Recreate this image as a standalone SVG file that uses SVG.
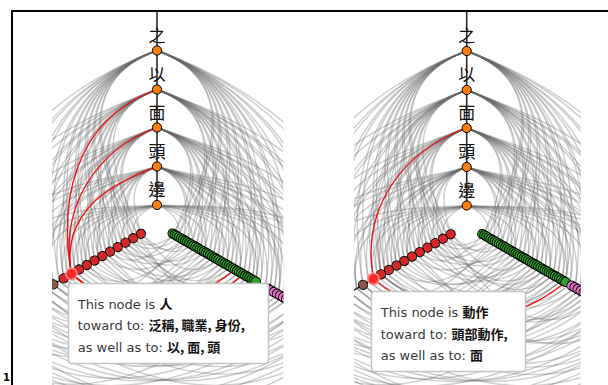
<svg xmlns="http://www.w3.org/2000/svg" xmlns:xlink="http://www.w3.org/1999/xlink" width="608" height="385" viewBox="0 0 608 385">
<style>
.frame{fill:none;stroke:#000;stroke-width:2}
.link path{fill:none;stroke:#666;stroke-opacity:.33;stroke-width:1.4}
.hot{fill:none;stroke:#f00;stroke-width:1.3;stroke-opacity:.9}
.axis{stroke:#2a2a2a;stroke-width:1.6}
.nd circle{stroke:#000;stroke-width:1}
.top circle{fill:#ff7f0e}
.red circle{fill:#d62728}
.grn circle{fill:#2ca02c}
.pnk circle{fill:#e377c2}
.brn circle{fill:#8c564b}
.sel circle{fill:#ff2a2a;stroke:#ff8a8a;stroke-width:1.6}
.lab{font-family:"Noto Sans CJK TC","Noto Sans CJK SC",sans-serif;font-size:17px;text-anchor:middle;fill:#111}
.tip rect{fill:#fff;stroke:#c4c4c4;stroke-width:1.5}
.tip text{font-family:"DejaVu Sans",Verdana,sans-serif;font-size:13px;fill:#3a3a3a}
.tip .zh{font-family:"Noto Sans CJK TC","Noto Sans CJK SC",sans-serif;font-weight:bold;fill:#111}
.pg{font-family:"DejaVu Sans",sans-serif;font-size:10px;font-weight:bold;fill:#000}
</style>
<defs>
<clipPath id="clip-a"><rect x="52" y="12" width="231.3" height="373"/></clipPath>
<clipPath id="clip-b"><rect x="354" y="12" width="226.7" height="373"/></clipPath>
<!-- hive links in a canonical frame: source on angle 0, target on angle 120 -->
<g id="edge-set" class="link">
 <!-- lower left axis to top axis -->
 <g transform="rotate(150)">
  <path d="M27.4,0C21,17.6 30.3,171.4 -87,150.7"/>
  <path d="M45.3,0C34.7,29.1 30.3,171.4 -87,150.7"/>
  <path d="M63.1,0C48.3,40.6 30.3,171.4 -87,150.7"/>
  <path d="M81,0C62,52.1 30.3,171.4 -87,150.7"/>
  <path d="M98.8,0C75.7,63.5 30.3,171.4 -87,150.7"/>
  <path d="M119.7,0C91.7,77 30.3,171.4 -87,150.7"/>
  <path d="M150,0C114.9,96.5 30.3,171.4 -87,150.7"/>
  <path d="M185,0C141.7,119 30.3,171.4 -87,150.7"/>
  <path d="M22.9,0C17.5,14.7 30.3,171.4 -87,150.7"/>
  <path d="M40.8,0C31.3,26.2 30.3,171.4 -87,150.7"/>
  <path d="M58.6,0C44.9,37.7 30.3,171.4 -87,150.7"/>
  <path d="M76.5,0C58.6,49.2 30.3,171.4 -87,150.7"/>
  <path d="M94.3,0C72.2,60.6 30.3,171.4 -87,150.7"/>
  <path d="M113,0C86.6,72.7 30.3,171.4 -87,150.7"/>
  <path d="M142,0C108.8,91.3 30.3,171.4 -87,150.7"/>
  <path d="M175,0C134.1,112.5 30.3,171.4 -87,150.7"/>
  <path d="M215,0C164.7,138.2 30.3,171.4 -87,150.7"/>
  <path d="M18.5,0C14.2,11.9 23.5,133 -67.5,116.9"/>
  <path d="M36.3,0C27.8,23.3 23.5,133 -67.5,116.9"/>
  <path d="M54.2,0C41.5,34.9 23.5,133 -67.5,116.9"/>
  <path d="M72,0C55.2,46.3 23.5,133 -67.5,116.9"/>
  <path d="M89.9,0C68.9,57.8 23.5,133 -67.5,116.9"/>
  <path d="M98.8,0C75.7,63.5 23.5,133 -67.5,116.9"/>
  <path d="M107.7,0C82.5,69.3 23.5,133 -67.5,116.9"/>
  <path d="M135,0C103.4,86.8 23.5,133 -67.5,116.9"/>
  <path d="M165,0C126.4,106.1 23.5,133 -67.5,116.9"/>
  <path d="M31.8,0C24.4,20.4 23.5,133 -67.5,116.9"/>
  <path d="M49.7,0C38.1,32 23.5,133 -67.5,116.9"/>
  <path d="M67.6,0C51.8,43.5 23.5,133 -67.5,116.9"/>
  <path d="M85.4,0C65.4,54.9 23.5,133 -67.5,116.9"/>
  <path d="M103.2,0C79.1,66.4 23.5,133 -67.5,116.9"/>
  <path d="M127,0C97.3,81.7 23.5,133 -67.5,116.9"/>
  <path d="M157,0C120.3,100.9 23.5,133 -67.5,116.9"/>
  <path d="M195,0C149.4,125.4 23.5,133 -67.5,116.9"/>
  <path d="M230,0C176.2,147.9 23.5,133 -67.5,116.9"/>
  <path d="M27.4,0C21,17.6 16.9,95.5 -48.5,84"/>
  <path d="M45.3,0C34.7,29.1 16.9,95.5 -48.5,84"/>
  <path d="M63.1,0C48.3,40.6 16.9,95.5 -48.5,84"/>
  <path d="M81,0C62,52.1 16.9,95.5 -48.5,84"/>
  <path d="M98.8,0C75.7,63.5 16.9,95.5 -48.5,84"/>
  <path d="M107.7,0C82.5,69.3 16.9,95.5 -48.5,84"/>
  <path d="M119.7,0C91.7,77 16.9,95.5 -48.5,84"/>
  <path d="M150,0C114.9,96.5 16.9,95.5 -48.5,84"/>
  <path d="M205,0C157,131.8 16.9,95.5 -48.5,84"/>
  <path d="M22.9,0C17.5,14.7 16.9,95.5 -48.5,84"/>
  <path d="M40.8,0C31.3,26.2 16.9,95.5 -48.5,84"/>
  <path d="M58.6,0C44.9,37.7 16.9,95.5 -48.5,84"/>
  <path d="M76.5,0C58.6,49.2 16.9,95.5 -48.5,84"/>
  <path d="M94.3,0C72.2,60.6 16.9,95.5 -48.5,84"/>
  <path d="M113,0C86.6,72.7 16.9,95.5 -48.5,84"/>
  <path d="M142,0C108.8,91.3 16.9,95.5 -48.5,84"/>
  <path d="M175,0C134.1,112.5 16.9,95.5 -48.5,84"/>
  <path d="M18.5,0C14.2,11.9 10.1,57.1 -29,50.2"/>
  <path d="M36.3,0C27.8,23.3 10.1,57.1 -29,50.2"/>
  <path d="M54.2,0C41.5,34.9 10.1,57.1 -29,50.2"/>
  <path d="M72,0C55.2,46.3 10.1,57.1 -29,50.2"/>
  <path d="M89.9,0C68.9,57.8 10.1,57.1 -29,50.2"/>
  <path d="M98.8,0C75.7,63.5 10.1,57.1 -29,50.2"/>
  <path d="M135,0C103.4,86.8 10.1,57.1 -29,50.2"/>
  <path d="M185,0C141.7,119 10.1,57.1 -29,50.2"/>
  <path d="M31.8,0C24.4,20.4 10.1,57.1 -29,50.2"/>
  <path d="M49.7,0C38.1,32 10.1,57.1 -29,50.2"/>
  <path d="M67.6,0C51.8,43.5 10.1,57.1 -29,50.2"/>
  <path d="M85.4,0C65.4,54.9 10.1,57.1 -29,50.2"/>
  <path d="M103.2,0C79.1,66.4 10.1,57.1 -29,50.2"/>
  <path d="M127,0C97.3,81.7 10.1,57.1 -29,50.2"/>
  <path d="M157,0C120.3,100.9 10.1,57.1 -29,50.2"/>
  <path d="M215,0C164.7,138.2 10.1,57.1 -29,50.2"/>
  <path d="M27.4,0C21,17.6 3.4,19.2 -9.75,16.9"/>
  <path d="M54.2,0C41.5,34.9 3.4,19.2 -9.75,16.9"/>
  <path d="M81,0C62,52.1 3.4,19.2 -9.75,16.9"/>
  <path d="M107.7,0C82.5,69.3 3.4,19.2 -9.75,16.9"/>
  <path d="M150,0C114.9,96.5 3.4,19.2 -9.75,16.9"/>
  <path d="M40.8,0C31.3,26.2 3.4,19.2 -9.75,16.9"/>
  <path d="M67.6,0C51.8,43.5 3.4,19.2 -9.75,16.9"/>
  <path d="M94.3,0C72.2,60.6 3.4,19.2 -9.75,16.9"/>
  <path d="M127,0C97.3,81.7 3.4,19.2 -9.75,16.9"/>
  <path d="M195,0C149.4,125.4 3.4,19.2 -9.75,16.9"/>
 </g>
 <!-- top axis to lower right axis -->
 <g transform="rotate(-90)">
  <path d="M174,0C133.3,111.9 3.5,19.7 -10,17.3"/>
  <path d="M174,0C133.3,111.9 7,39.4 -20,34.6"/>
  <path d="M174,0C133.3,111.9 10.4,59.1 -30,52"/>
  <path d="M174,0C133.3,111.9 13.9,78.8 -40,69.3"/>
  <path d="M174,0C133.3,111.9 17.4,98.5 -50,86.6"/>
  <path d="M174,0C133.3,111.9 19.8,112.3 -57,98.7"/>
  <path d="M174,0C133.3,111.9 23.5,133 -67.5,116.9"/>
  <path d="M174,0C133.3,111.9 27.8,157.6 -80,138.6"/>
  <path d="M174,0C133.3,111.9 33.1,187.2 -95,164.5"/>
  <path d="M174,0C133.3,111.9 4.35,24.6 -12.5,21.65"/>
  <path d="M174,0C133.3,111.9 7.8,44.3 -22.5,39"/>
  <path d="M174,0C133.3,111.9 11.3,64 -32.5,56.3"/>
  <path d="M174,0C133.3,111.9 14.8,83.7 -42.5,73.6"/>
  <path d="M174,0C133.3,111.9 18.3,103.4 -52.5,90.9"/>
  <path d="M174,0C133.3,111.9 22.6,128 -65,112.6"/>
  <path d="M174,0C133.3,111.9 26.1,147.8 -75,129.9"/>
  <path d="M174,0C133.3,111.9 31.7,179.3 -91,157.6"/>
  <path d="M174,0C133.3,111.9 38.3,216.7 -110,190.5"/>
  <path d="M174,0C133.3,111.9 41.8,236.4 -120,207.8"/>
  <path d="M135,0C103.4,86.8 5.2,29.6 -15,26"/>
  <path d="M135,0C103.4,86.8 8.7,49.3 -25,43.3"/>
  <path d="M135,0C103.4,86.8 12.2,69 -35,60.6"/>
  <path d="M135,0C103.4,86.8 15.7,88.7 -45,77.9"/>
  <path d="M135,0C103.4,86.8 19.1,108.4 -55,95.3"/>
  <path d="M135,0C103.4,86.8 21.8,123.1 -62.5,108.3"/>
  <path d="M135,0C103.4,86.8 25.2,142.8 -72.5,125.6"/>
  <path d="M135,0C103.4,86.8 30.5,172.4 -87.5,151.6"/>
  <path d="M135,0C103.4,86.8 36.5,206.9 -105,181.9"/>
  <path d="M135,0C103.4,86.8 6.1,34.5 -17.5,30.3"/>
  <path d="M135,0C103.4,86.8 9.6,54.2 -27.5,47.6"/>
  <path d="M135,0C103.4,86.8 13.05,73.9 -37.5,64.95"/>
  <path d="M135,0C103.4,86.8 16.5,93.6 -47.5,82.3"/>
  <path d="M135,0C103.4,86.8 20.7,117.2 -59.5,103.1"/>
  <path d="M135,0C103.4,86.8 24.4,137.9 -70,121.2"/>
  <path d="M135,0C103.4,86.8 29.1,164.5 -83.5,144.6"/>
  <path d="M135,0C103.4,86.8 34.8,197 -100,173.2"/>
  <path d="M135,0C103.4,86.8 41.8,236.4 -120,207.8"/>
  <path d="M97,0C74.3,62.4 3.5,19.7 -10,17.3"/>
  <path d="M97,0C74.3,62.4 7,39.4 -20,34.6"/>
  <path d="M97,0C74.3,62.4 10.4,59.1 -30,52"/>
  <path d="M97,0C74.3,62.4 13.9,78.8 -40,69.3"/>
  <path d="M97,0C74.3,62.4 17.4,98.5 -50,86.6"/>
  <path d="M97,0C74.3,62.4 19.8,112.3 -57,98.7"/>
  <path d="M97,0C74.3,62.4 23.5,133 -67.5,116.9"/>
  <path d="M97,0C74.3,62.4 27.8,157.6 -80,138.6"/>
  <path d="M97,0C74.3,62.4 33.1,187.2 -95,164.5"/>
  <path d="M97,0C74.3,62.4 4.35,24.6 -12.5,21.65"/>
  <path d="M97,0C74.3,62.4 7.8,44.3 -22.5,39"/>
  <path d="M97,0C74.3,62.4 11.3,64 -32.5,56.3"/>
  <path d="M97,0C74.3,62.4 14.8,83.7 -42.5,73.6"/>
  <path d="M97,0C74.3,62.4 18.3,103.4 -52.5,90.9"/>
  <path d="M97,0C74.3,62.4 22.6,128 -65,112.6"/>
  <path d="M97,0C74.3,62.4 26.1,147.8 -75,129.9"/>
  <path d="M97,0C74.3,62.4 31.7,179.3 -91,157.6"/>
  <path d="M97,0C74.3,62.4 38.3,216.7 -110,190.5"/>
  <path d="M58,0C44.4,37.3 5.2,29.6 -15,26"/>
  <path d="M58,0C44.4,37.3 8.7,49.3 -25,43.3"/>
  <path d="M58,0C44.4,37.3 12.2,69 -35,60.6"/>
  <path d="M58,0C44.4,37.3 15.7,88.7 -45,77.9"/>
  <path d="M58,0C44.4,37.3 19.1,108.4 -55,95.3"/>
  <path d="M58,0C44.4,37.3 21.8,123.1 -62.5,108.3"/>
  <path d="M58,0C44.4,37.3 25.2,142.8 -72.5,125.6"/>
  <path d="M58,0C44.4,37.3 30.5,172.4 -87.5,151.6"/>
  <path d="M58,0C44.4,37.3 6.1,34.5 -17.5,30.3"/>
  <path d="M58,0C44.4,37.3 9.6,54.2 -27.5,47.6"/>
  <path d="M58,0C44.4,37.3 13.05,73.9 -37.5,64.95"/>
  <path d="M58,0C44.4,37.3 16.5,93.6 -47.5,82.3"/>
  <path d="M58,0C44.4,37.3 20.7,117.2 -59.5,103.1"/>
  <path d="M58,0C44.4,37.3 24.4,137.9 -70,121.2"/>
  <path d="M58,0C44.4,37.3 29.1,164.5 -83.5,144.6"/>
  <path d="M58,0C44.4,37.3 34.8,197 -100,173.2"/>
  <path d="M58,0C44.4,37.3 41.8,236.4 -120,207.8"/>
  <path d="M19.5,0C14.9,12.5 7,39.4 -20,34.6"/>
  <path d="M19.5,0C14.9,12.5 13.9,78.8 -40,69.3"/>
  <path d="M19.5,0C14.9,12.5 19.8,112.3 -57,98.7"/>
  <path d="M19.5,0C14.9,12.5 27.8,157.6 -80,138.6"/>
  <path d="M19.5,0C14.9,12.5 36.5,206.9 -105,181.9"/>
  <path d="M19.5,0C14.9,12.5 4.35,24.6 -12.5,21.65"/>
  <path d="M19.5,0C14.9,12.5 9.6,54.2 -27.5,47.6"/>
  <path d="M19.5,0C14.9,12.5 16.5,93.6 -47.5,82.3"/>
  <path d="M19.5,0C14.9,12.5 24.4,137.9 -70,121.2"/>
  <path d="M19.5,0C14.9,12.5 31.7,179.3 -91,157.6"/>
  <path d="M19.5,0C14.9,12.5 41.8,236.4 -120,207.8"/>
 </g>
 <!-- lower right axis to lower left axis -->
 <g transform="rotate(30)">
  <path d="M20,0C15.3,12.9 4.8,27 -13.7,23.7"/>
  <path d="M30,0C23,19.3 7.9,44.6 -22.65,39.2"/>
  <path d="M40,0C30.6,25.7 3.2,18.2 -9.25,16"/>
  <path d="M40,0C30.6,25.7 11,62.2 -31.55,54.6"/>
  <path d="M50,0C38.3,32.2 6.3,35.8 -18.15,31.4"/>
  <path d="M60,0C46,38.6 14.1,79.8 -40.5,70.1"/>
  <path d="M70,0C53.6,45 9.4,53.4 -27.1,46.9"/>
  <path d="M80,0C61.3,51.4 17.2,97.3 -49.4,85.6"/>
  <path d="M90,0C68.9,57.9 12.5,70.9 -36,62.4"/>
  <path d="M100,0C76.6,64.3 20.8,117.9 -59.85,103.7"/>
  <path d="M110,0C84.3,70.7 15.6,88.6 -44.95,77.9"/>
  <path d="M114,0C87.3,73.3 18.7,106.1 -53.85,93.3"/>
  <path d="M125,0C95.8,80.4 23.5,133 -67.5,116.9"/>
  <path d="M135,0C103.4,86.8 17.2,97.3 -49.4,85.6"/>
  <path d="M145,0C111.1,93.2 26.1,147.8 -75,129.9"/>
  <path d="M160,0C122.6,102.9 20.8,117.9 -59.85,103.7"/>
  <path d="M175,0C134.1,112.5 28.7,162.5 -82.5,142.9"/>
  <path d="M190,0C145.5,122.2 32.2,182.2 -92.5,160.2"/>
  <path d="M210,0C160.9,135 35.7,201.9 -102.5,177.5"/>
  <path d="M60,0C46,38.6 26.1,147.8 -75,129.9"/>
  <path d="M145,0C111.1,93.2 11,62.2 -31.55,54.6"/>
  <path d="M100,0C76.6,64.3 4.8,27 -13.7,23.7"/>
  <path d="M30,0C23,19.3 18.7,106.1 -53.85,93.3"/>
  <path d="M175,0C134.1,112.5 14.1,79.8 -40.5,70.1"/>
  <path d="M80,0C61.3,51.4 32.2,182.2 -92.5,160.2"/>
  <path d="M125,0C95.8,80.4 7.9,44.6 -22.65,39.2"/>
  <path d="M210,0C160.9,135 23.5,133 -67.5,116.9"/>
  <path d="M160,0C122.6,102.9 35.7,201.9 -102.5,177.5"/>
  <path d="M50,0C38.3,32.2 20.8,117.9 -59.85,103.7"/>
  <path d="M190,0C145.5,122.2 23.5,133 -67.5,116.9"/>
  <path d="M110,0C84.3,70.7 28.7,162.5 -82.5,142.9"/>
  <path d="M70,0C53.6,45 3.2,18.2 -9.25,16"/>
  <path d="M20,0C15.3,12.9 9.4,53.4 -27.1,46.9"/>
  <path d="M90,0C68.9,57.9 6.3,35.8 -18.15,31.4"/>
  <path d="M135,0C103.4,86.8 32.2,182.2 -92.5,160.2"/>
  <path d="M90,0C68.9,57.9 17.2,97.3 -49.4,85.6"/>
  <path d="M100,0C76.6,64.3 17.2,97.3 -49.4,85.6"/>
  <path d="M110,0C84.3,70.7 17.2,97.3 -49.4,85.6"/>
  <path d="M25,0C19.15,16.1 5.5,31.3 -15.9,27.5"/>
  <path d="M35,0C26.8,22.5 4,22.6 -11.45,19.8"/>
  <path d="M45,0C34.5,28.9 8.6,49 -24.85,43"/>
  <path d="M55,0C42.1,35.4 7.1,40.2 -20.4,35.3"/>
  <path d="M65,0C49.8,41.8 13.3,75.4 -38.25,66.2"/>
  <path d="M75,0C57.45,48.2 10.2,57.7 -29.3,50.7"/>
  <path d="M85,0C65.1,54.7 16.4,92.9 -47.15,81.7"/>
  <path d="M95,0C72.8,61.1 14.9,84.1 -42.7,74"/>
  <path d="M105,0C80.4,67.5 19.7,111.3 -56.5,97.9"/>
  <path d="M119,0C91.2,76.5 18,101.7 -51.6,89.4"/>
  <path d="M130,0C99.6,83.6 22.1,125.1 -63.5,110"/>
  <path d="M140,0C107.2,90 24.7,139.9 -71,123"/>
  <path d="M150,0C114.9,96.5 27.3,154.6 -78.5,136"/>
  <path d="M167,0C127.9,107.4 30.5,172.4 -87.5,151.6"/>
  <path d="M182,0C139.4,117 33.9,192.1 -97.5,168.9"/>
  <path d="M200,0C153.2,128.6 37.4,211.8 -107.5,186.2"/>
  <path d="M220,0C168.5,141.5 40,226.6 -115,199.2"/>
  <path d="M240,0C183.8,154.3 37.4,211.8 -107.5,186.2"/>
  <path d="M35,0C26.8,22.5 14.9,84.1 -42.7,74"/>
  <path d="M55,0C42.1,35.4 22.1,125.1 -63.5,110"/>
  <path d="M75,0C57.45,48.2 27.3,154.6 -78.5,136"/>
  <path d="M95,0C72.8,61.1 33.9,192.1 -97.5,168.9"/>
  <path d="M119,0C91.2,76.5 7.1,40.2 -20.4,35.3"/>
  <path d="M140,0C107.2,90 11.8,66.6 -33.8,58.5"/>
  <path d="M167,0C127.9,107.4 16.4,92.9 -47.15,81.7"/>
  <path d="M200,0C153.2,128.6 22.1,125.1 -63.5,110"/>
  <path d="M220,0C168.5,141.5 27.3,154.6 -78.5,136"/>
  <path d="M240,0C183.8,154.3 33.9,192.1 -97.5,168.9"/>
  <path d="M130,0C99.6,83.6 40,226.6 -115,199.2"/>
  <path d="M150,0C114.9,96.5 4,22.6 -11.45,19.8"/>
  <path d="M182,0C139.4,117 10.2,57.7 -29.3,50.7"/>
  <path d="M105,0C80.4,67.5 30.5,172.4 -87.5,151.6"/>
  <path d="M65,0C49.8,41.8 24.7,139.9 -71,123"/>
  <path d="M45,0C34.5,28.9 19.7,111.3 -56.5,97.9"/>
  <path d="M85,0C65.1,54.7 5.5,31.3 -15.9,27.5"/>
  <path d="M200,0C153.2,128.6 30.5,172.4 -87.5,151.6"/>
  <path d="M240,0C183.8,154.3 40,226.6 -115,199.2"/>
  <path d="M167,0C127.9,107.4 37.4,211.8 -107.5,186.2"/>
 </g>
</g>
</defs>

<!-- page frame -->
<path class="frame" d="M12,385V11H608"/>
<text class="pg" x="3" y="381">1</text>

<!-- left hive: 人 selected -->
<g id="hive-a" clip-path="url(#clip-a)">
 <g transform="translate(157,224.5)">
  <g id="connectors-a">
   <use href="#edge-set"/>
   <g transform="rotate(150)" class="hot">
    <path d="M98.8,0C75.7,63.5 23.5,133 -67.5,116.9"/>
    <path d="M98.8,0C75.7,63.5 16.9,95.5 -48.5,84"/>
    <path d="M98.8,0C75.7,63.5 10.1,57.1 -29,50.2"/>
   </g>
   <g transform="rotate(30)" class="hot">
    <path d="M90,0C68.9,57.9 17.2,97.3 -49.4,85.6"/>
    <path d="M100,0C76.6,64.3 17.2,97.3 -49.4,85.6"/>
    <path d="M110,0C84.3,70.7 17.2,97.3 -49.4,85.6"/>
   </g>
  </g>
  <g class="axis">
   <line x1="0" y1="-15" x2="0" y2="-240"/>
   <line x1="15" y1="0" x2="260" y2="0" transform="rotate(150)"/>
   <line x1="15" y1="0" x2="260" y2="0" transform="rotate(30)"/>
  </g>
  <g class="nd top">
   <g id="a-zhi"><text class="lab" x="0" y="-183">之</text><circle cx="0" cy="-174" r="4.6"/></g>
   <g id="a-yi"><text class="lab" x="0" y="-144">以</text><circle cx="0" cy="-135" r="4.6"/></g>
   <g id="a-mian"><text class="lab" x="0" y="-106">面</text><circle cx="0" cy="-97" r="4.6"/></g>
   <g id="a-tou"><text class="lab" x="0" y="-67">頭</text><circle cx="0" cy="-58" r="4.6"/></g>
   <g id="a-bian"><text class="lab" x="0" y="-28.5">邊</text><circle cx="0" cy="-19.5" r="4.6"/></g>
  </g>
  <g class="nd red" transform="rotate(150)">
   <g id="a-r00"><circle cx="18.5" r="4.6"/></g>
   <g id="a-r01"><circle cx="27.4" r="4.6"/></g>
   <g id="a-r02"><circle cx="36.3" r="4.6"/></g>
   <g id="a-r03"><circle cx="45.3" r="4.6"/></g>
   <g id="a-r04"><circle cx="54.2" r="4.6"/></g>
   <g id="a-r05"><circle cx="63.1" r="4.6"/></g>
   <g id="a-r06"><circle cx="72" r="4.6"/></g>
   <g id="a-r07"><circle cx="81" r="4.6"/></g>
   <g id="a-r08"><circle cx="89.9" r="4.6"/></g>
   <g id="a-r10"><circle cx="107.7" r="4.6"/></g>
   <g id="a-ren" class="sel"><circle cx="98.8" r="5.6"/></g>
  </g>
  <g class="nd brn" transform="rotate(150)">
   <g id="a-b00"><circle cx="119.7" r="4.6"/></g>
  </g>
  <g class="nd grn" transform="rotate(30)">
   <g id="a-g00"><circle cx="18" r="4.6"/></g><g id="a-g01"><circle cx="20.4" r="4.6"/></g><g id="a-g02"><circle cx="22.8" r="4.6"/></g><g id="a-g03"><circle cx="25.2" r="4.6"/></g><g id="a-g04"><circle cx="27.6" r="4.6"/></g><g id="a-g05"><circle cx="30" r="4.6"/></g><g id="a-g06"><circle cx="32.4" r="4.6"/></g><g id="a-g07"><circle cx="34.8" r="4.6"/></g><g id="a-g08"><circle cx="37.2" r="4.6"/></g><g id="a-g09"><circle cx="39.6" r="4.6"/></g>
   <g id="a-g10"><circle cx="42" r="4.6"/></g><g id="a-g11"><circle cx="44.4" r="4.6"/></g><g id="a-g12"><circle cx="46.8" r="4.6"/></g><g id="a-g13"><circle cx="49.2" r="4.6"/></g><g id="a-g14"><circle cx="51.6" r="4.6"/></g><g id="a-g15"><circle cx="54" r="4.6"/></g><g id="a-g16"><circle cx="56.4" r="4.6"/></g><g id="a-g17"><circle cx="58.8" r="4.6"/></g><g id="a-g18"><circle cx="61.2" r="4.6"/></g><g id="a-g19"><circle cx="63.6" r="4.6"/></g>
   <g id="a-g20"><circle cx="66" r="4.6"/></g><g id="a-g21"><circle cx="68.4" r="4.6"/></g><g id="a-g22"><circle cx="70.8" r="4.6"/></g><g id="a-g23"><circle cx="73.2" r="4.6"/></g><g id="a-g24"><circle cx="75.6" r="4.6"/></g><g id="a-g25"><circle cx="78" r="4.6"/></g><g id="a-g26"><circle cx="80.4" r="4.6"/></g><g id="a-g27"><circle cx="82.8" r="4.6"/></g><g id="a-g28"><circle cx="85.2" r="4.6"/></g><g id="a-g29"><circle cx="87.6" r="4.6"/></g>
   <g id="a-g30"><circle cx="90" r="4.6"/></g><g id="a-g31"><circle cx="92.4" r="4.6"/></g><g id="a-g32"><circle cx="94.8" r="4.6"/></g><g id="a-g33"><circle cx="97.2" r="4.6"/></g><g id="a-g34"><circle cx="99.6" r="4.6"/></g><g id="a-g35"><circle cx="102" r="4.6"/></g><g id="a-g36"><circle cx="104.4" r="4.6"/></g><g id="a-g37"><circle cx="106.8" r="4.6"/></g><g id="a-g38"><circle cx="109.2" r="4.6"/></g><g id="a-g39"><circle cx="111.6" r="4.6"/></g>
   <g id="a-g40"><circle cx="114" r="4.6"/></g>
  </g>
  <g class="nd pnk" transform="rotate(30)">
   <g id="a-p00"><circle cx="128" r="4.6"/></g><g id="a-p01"><circle cx="131.5" r="4.6"/></g><g id="a-p02"><circle cx="135" r="4.6"/></g><g id="a-p03"><circle cx="138.5" r="4.6"/></g><g id="a-p04"><circle cx="142" r="4.6"/></g><g id="a-p05"><circle cx="145.5" r="4.6"/></g><g id="a-p06"><circle cx="149" r="4.6"/></g>
  </g>
 </g>
</g>

<!-- right hive: 動作 selected -->
<g id="hive-b" clip-path="url(#clip-b)">
 <g transform="translate(466.7,225)">
  <g id="connectors-b">
   <use href="#edge-set"/>
   <g transform="rotate(150)" class="hot">
    <path d="M107.7,0C82.5,69.3 16.9,95.5 -48.5,84"/>
   </g>
   <g transform="rotate(30)" class="hot">
    <path d="M114,0C87.3,73.3 18.7,106.1 -53.85,93.3"/>
   </g>
  </g>
  <g class="axis">
   <line x1="0" y1="-15" x2="0" y2="-240"/>
   <line x1="15" y1="0" x2="260" y2="0" transform="rotate(150)"/>
   <line x1="15" y1="0" x2="260" y2="0" transform="rotate(30)"/>
  </g>
  <g class="nd top">
   <g id="b-zhi"><text class="lab" x="0" y="-183">之</text><circle cx="0" cy="-174" r="4.6"/></g>
   <g id="b-yi"><text class="lab" x="0" y="-144">以</text><circle cx="0" cy="-135" r="4.6"/></g>
   <g id="b-mian"><text class="lab" x="0" y="-106">面</text><circle cx="0" cy="-97" r="4.6"/></g>
   <g id="b-tou"><text class="lab" x="0" y="-67">頭</text><circle cx="0" cy="-58" r="4.6"/></g>
   <g id="b-bian"><text class="lab" x="0" y="-28.5">邊</text><circle cx="0" cy="-19.5" r="4.6"/></g>
  </g>
  <g class="nd red" transform="rotate(150)">
   <g id="b-r00"><circle cx="18.5" r="4.6"/></g>
   <g id="b-r01"><circle cx="27.4" r="4.6"/></g>
   <g id="b-r02"><circle cx="36.3" r="4.6"/></g>
   <g id="b-r03"><circle cx="45.3" r="4.6"/></g>
   <g id="b-r04"><circle cx="54.2" r="4.6"/></g>
   <g id="b-r05"><circle cx="63.1" r="4.6"/></g>
   <g id="b-r06"><circle cx="72" r="4.6"/></g>
   <g id="b-r07"><circle cx="81" r="4.6"/></g>
   <g id="b-r08"><circle cx="89.9" r="4.6"/></g>
   <g id="b-ren"><circle cx="98.8" r="4.6"/></g>
   <g id="b-dongzuo" class="sel"><circle cx="107.7" r="5.6"/></g>
  </g>
  <g class="nd brn" transform="rotate(150)">
   <g id="b-b00"><circle cx="119.7" r="4.6"/></g>
  </g>
  <g class="nd grn" transform="rotate(30)">
   <g id="b-g00"><circle cx="18" r="4.6"/></g><g id="b-g01"><circle cx="20.4" r="4.6"/></g><g id="b-g02"><circle cx="22.8" r="4.6"/></g><g id="b-g03"><circle cx="25.2" r="4.6"/></g><g id="b-g04"><circle cx="27.6" r="4.6"/></g><g id="b-g05"><circle cx="30" r="4.6"/></g><g id="b-g06"><circle cx="32.4" r="4.6"/></g><g id="b-g07"><circle cx="34.8" r="4.6"/></g><g id="b-g08"><circle cx="37.2" r="4.6"/></g><g id="b-g09"><circle cx="39.6" r="4.6"/></g>
   <g id="b-g10"><circle cx="42" r="4.6"/></g><g id="b-g11"><circle cx="44.4" r="4.6"/></g><g id="b-g12"><circle cx="46.8" r="4.6"/></g><g id="b-g13"><circle cx="49.2" r="4.6"/></g><g id="b-g14"><circle cx="51.6" r="4.6"/></g><g id="b-g15"><circle cx="54" r="4.6"/></g><g id="b-g16"><circle cx="56.4" r="4.6"/></g><g id="b-g17"><circle cx="58.8" r="4.6"/></g><g id="b-g18"><circle cx="61.2" r="4.6"/></g><g id="b-g19"><circle cx="63.6" r="4.6"/></g>
   <g id="b-g20"><circle cx="66" r="4.6"/></g><g id="b-g21"><circle cx="68.4" r="4.6"/></g><g id="b-g22"><circle cx="70.8" r="4.6"/></g><g id="b-g23"><circle cx="73.2" r="4.6"/></g><g id="b-g24"><circle cx="75.6" r="4.6"/></g><g id="b-g25"><circle cx="78" r="4.6"/></g><g id="b-g26"><circle cx="80.4" r="4.6"/></g><g id="b-g27"><circle cx="82.8" r="4.6"/></g><g id="b-g28"><circle cx="85.2" r="4.6"/></g><g id="b-g29"><circle cx="87.6" r="4.6"/></g>
   <g id="b-g30"><circle cx="90" r="4.6"/></g><g id="b-g31"><circle cx="92.4" r="4.6"/></g><g id="b-g32"><circle cx="94.8" r="4.6"/></g><g id="b-g33"><circle cx="97.2" r="4.6"/></g><g id="b-g34"><circle cx="99.6" r="4.6"/></g><g id="b-g35"><circle cx="102" r="4.6"/></g><g id="b-g36"><circle cx="104.4" r="4.6"/></g><g id="b-g37"><circle cx="106.8" r="4.6"/></g><g id="b-g38"><circle cx="109.2" r="4.6"/></g><g id="b-g39"><circle cx="111.6" r="4.6"/></g>
   <g id="b-g40"><circle cx="114" r="4.6"/></g>
  </g>
  <g class="nd pnk" transform="rotate(30)">
   <g id="b-p00"><circle cx="121" r="4.6"/></g><g id="b-p01"><circle cx="124.5" r="4.6"/></g><g id="b-p02"><circle cx="128" r="4.6"/></g><g id="b-p03"><circle cx="131.5" r="4.6"/></g><g id="b-p04"><circle cx="135" r="4.6"/></g><g id="b-p05"><circle cx="138.5" r="4.6"/></g>
  </g>
 </g>
</g>

<!-- hover tooltips -->
<g id="tip-a" class="tip">
 <rect x="68.5" y="283.5" width="200" height="80" rx="3"/>
 <text x="77.7" y="309">This node is <tspan class="zh">人</tspan></text>
 <text x="77.7" y="330.3">toward to: <tspan class="zh">泛稱, 職業, 身份,</tspan></text>
 <text x="77.7" y="351.7">as well as to: <tspan class="zh">以, 面, 頭</tspan></text>
</g>
<g id="tip-b" class="tip">
 <rect x="371.5" y="291.5" width="154" height="80" rx="3"/>
 <text x="380.7" y="317.3">This node is <tspan class="zh">動作</tspan></text>
 <text x="380.7" y="338.6">toward to: <tspan class="zh">頭部動作,</tspan></text>
 <text x="380.7" y="360">as well as to: <tspan class="zh">面</tspan></text>
</g>
</svg>
